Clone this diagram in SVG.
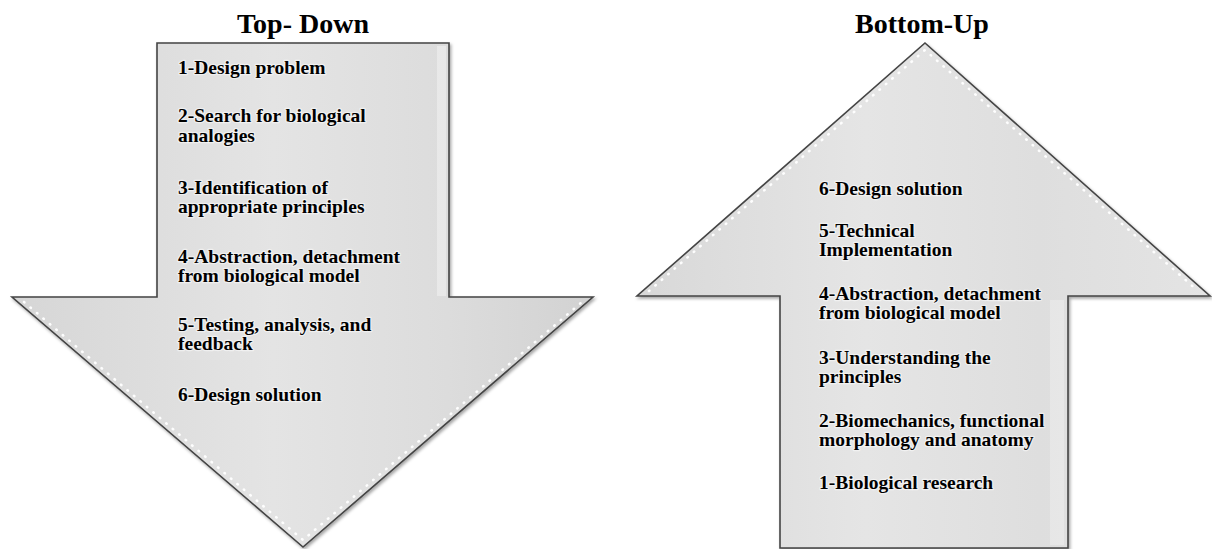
<svg xmlns="http://www.w3.org/2000/svg" width="1212" height="549" viewBox="0 0 1212 549">
  <style>
    .title { font-family: "Liberation Serif", "Times New Roman", serif; font-weight: bold; font-size: 28px; fill: #000; text-anchor: middle; }
    .step { font-family: "Liberation Serif", "Times New Roman", serif; font-weight: bold; font-size: 19.5px; fill: #000; stroke: #ffffff; stroke-width: 2.5; stroke-opacity: 0.5; paint-order: stroke; stroke-linejoin: round; }
    .arrow { stroke: #444444; stroke-width: 1.6; stroke-linejoin: miter; }
    .stitch { fill: none; stroke: #ffffff; stroke-width: 2.6; stroke-opacity: 0.95; stroke-dasharray: 0.5 8; stroke-linecap: round; }
  </style>
  <defs>
    <linearGradient id="gradDown" x1="0" y1="0" x2="1" y2="0">
      <stop offset="0" stop-color="#d6d6d6"/>
      <stop offset="0.45" stop-color="#e4e4e4"/>
      <stop offset="0.75" stop-color="#dcdcdc"/>
      <stop offset="1" stop-color="#d2d2d2"/>
    </linearGradient>
    <linearGradient id="gradUp" x1="0" y1="0" x2="1" y2="0">
      <stop offset="0" stop-color="#d8d8d8"/>
      <stop offset="0.4" stop-color="#e5e5e5"/>
      <stop offset="0.7" stop-color="#dedede"/>
      <stop offset="1" stop-color="#e4e4e4"/>
    </linearGradient>
    <filter id="shadow" x="-5%" y="-5%" width="110%" height="110%">
      <feDropShadow dx="1.5" dy="2" stdDeviation="1.8" flood-color="#000" flood-opacity="0.35"/>
    </filter>
  </defs>

  <g id="title-top-down">
    <text class="title" x="303" y="33">Top- Down</text>
  </g>
  <g id="title-bottom-up">
    <text class="title" x="922" y="33">Bottom-Up</text>
  </g>

  <g id="arrow-top-down">
    <path class="arrow" filter="url(#shadow)" fill="url(#gradDown)" d="M157,43 H449 V297 H593 L303,547 L12,297 H157 Z"/>
    <rect x="437" y="46" width="9" height="250" fill="#ffffff" opacity="0.35"/>
    <polyline class="stitch" points="24,302 303,540 582,302"/>
    <g id="top-down-steps">
      <text class="step" x="178" y="74">1-Design problem</text>
      <text class="step" x="178" y="122">2-Search for biological</text>
      <text class="step" x="178" y="142">analogies</text>
      <text class="step" x="178" y="194">3-Identification of</text>
      <text class="step" x="178" y="213">appropriate principles</text>
      <text class="step" x="178" y="263">4-Abstraction, detachment</text>
      <text class="step" x="178" y="282">from biological model</text>
      <text class="step" x="178" y="331">5-Testing, analysis, and</text>
      <text class="step" x="178" y="350">feedback</text>
      <text class="step" x="178" y="401">6-Design solution</text>
    </g>
  </g>

  <g id="arrow-bottom-up">
    <path class="arrow" filter="url(#shadow)" fill="url(#gradUp)" d="M925,43 L1210,296 H1068 V548 H780 V296 H637 Z"/>
    <rect x="1050" y="300" width="14" height="245" fill="#ffffff" opacity="0.25"/>
    <polyline class="stitch" points="649,291 925,50 1198,291"/>
    <g id="bottom-up-steps">
      <text class="step" x="819" y="195">6-Design solution</text>
      <text class="step" x="819" y="237">5-Technical</text>
      <text class="step" x="819" y="256">Implementation</text>
      <text class="step" x="819" y="300">4-Abstraction, detachment</text>
      <text class="step" x="819" y="319">from biological model</text>
      <text class="step" x="819" y="364">3-Understanding the</text>
      <text class="step" x="819" y="383">principles</text>
      <text class="step" x="819" y="427">2-Biomechanics, functional</text>
      <text class="step" x="819" y="446">morphology and anatomy</text>
      <text class="step" x="819" y="489">1-Biological research</text>
    </g>
  </g>

  <g id="connectors"/>
</svg>
